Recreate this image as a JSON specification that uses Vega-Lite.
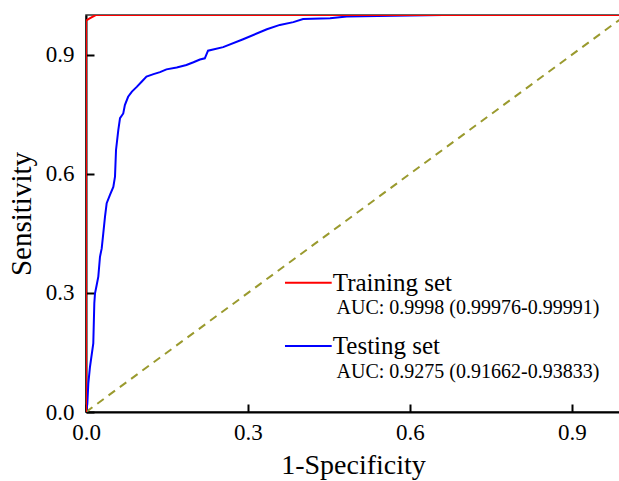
{
  "$schema": "https://vega.github.io/schema/vega-lite/v6.json",
  "autosize": "none",
  "width": 534,
  "height": 397,
  "padding": {"left": 86, "top": 15, "right": 0, "bottom": 69},
  "background": "white",
  "config": {
    "font": "Liberation Serif",
    "view": {"stroke": "#333333", "strokeWidth": 1.5},
    "axis": {
      "grid": false,
      "domainColor": "black",
      "domainWidth": 2,
      "tickColor": "black",
      "tickWidth": 2,
      "tickSize": -8,
      "labelFlush": false,
      "labelFont": "Liberation Serif",
      "labelFontSize": 23,
      "labelColor": "black",
      "titleFont": "Liberation Serif",
      "titleFontSize": 28,
      "titleFontWeight": "normal",
      "titleColor": "black"
    }
  },
  "datasets": {
    "diag": [{"x": 0, "y": 0}, {"x": 1, "y": 1}],
    "training": [
      {"i": 0, "fpr": 0, "tpr": 0},
      {"i": 1, "fpr": 0, "tpr": 0.986},
      {"i": 2, "fpr": 0.006, "tpr": 0.991},
      {"i": 3, "fpr": 0.018, "tpr": 1.0},
      {"i": 4, "fpr": 1.0, "tpr": 1.0}
    ],
    "testing": [
      {"i": 0, "fpr": 0, "tpr": 0},
      {"i": 1, "fpr": 0.0024, "tpr": 0.02},
      {"i": 2, "fpr": 0.0043, "tpr": 0.072},
      {"i": 3, "fpr": 0.0074, "tpr": 0.114},
      {"i": 4, "fpr": 0.0135, "tpr": 0.173},
      {"i": 5, "fpr": 0.0154, "tpr": 0.274},
      {"i": 6, "fpr": 0.0167, "tpr": 0.299},
      {"i": 7, "fpr": 0.0198, "tpr": 0.32},
      {"i": 8, "fpr": 0.0228, "tpr": 0.341},
      {"i": 9, "fpr": 0.0259, "tpr": 0.391},
      {"i": 10, "fpr": 0.0291, "tpr": 0.412},
      {"i": 11, "fpr": 0.032, "tpr": 0.45},
      {"i": 12, "fpr": 0.0352, "tpr": 0.492},
      {"i": 13, "fpr": 0.0383, "tpr": 0.526},
      {"i": 14, "fpr": 0.0444, "tpr": 0.547},
      {"i": 15, "fpr": 0.0506, "tpr": 0.567},
      {"i": 16, "fpr": 0.0537, "tpr": 0.593},
      {"i": 17, "fpr": 0.0556, "tpr": 0.66},
      {"i": 18, "fpr": 0.0598, "tpr": 0.71},
      {"i": 19, "fpr": 0.063, "tpr": 0.74},
      {"i": 20, "fpr": 0.069, "tpr": 0.752},
      {"i": 21, "fpr": 0.072, "tpr": 0.773},
      {"i": 22, "fpr": 0.078, "tpr": 0.794},
      {"i": 23, "fpr": 0.085, "tpr": 0.807},
      {"i": 24, "fpr": 0.094, "tpr": 0.819},
      {"i": 25, "fpr": 0.103, "tpr": 0.832},
      {"i": 26, "fpr": 0.112, "tpr": 0.845},
      {"i": 27, "fpr": 0.125, "tpr": 0.851},
      {"i": 28, "fpr": 0.137, "tpr": 0.856},
      {"i": 29, "fpr": 0.149, "tpr": 0.863},
      {"i": 30, "fpr": 0.168, "tpr": 0.868},
      {"i": 31, "fpr": 0.186, "tpr": 0.874},
      {"i": 32, "fpr": 0.199, "tpr": 0.881},
      {"i": 33, "fpr": 0.211, "tpr": 0.888},
      {"i": 34, "fpr": 0.22, "tpr": 0.891},
      {"i": 35, "fpr": 0.226, "tpr": 0.91},
      {"i": 36, "fpr": 0.254, "tpr": 0.919},
      {"i": 37, "fpr": 0.291, "tpr": 0.939},
      {"i": 38, "fpr": 0.335, "tpr": 0.964},
      {"i": 39, "fpr": 0.359, "tpr": 0.975},
      {"i": 40, "fpr": 0.384, "tpr": 0.982},
      {"i": 41, "fpr": 0.402, "tpr": 0.99},
      {"i": 42, "fpr": 0.452, "tpr": 0.992},
      {"i": 43, "fpr": 0.483, "tpr": 0.996},
      {"i": 44, "fpr": 0.569, "tpr": 0.998},
      {"i": 45, "fpr": 0.661, "tpr": 1.0},
      {"i": 46, "fpr": 1.0, "tpr": 1.0}
    ],
    "legendLines": [
      {"set": "Training set", "x1": 0.3685, "x2": 0.455, "y": 0.3257},
      {"set": "Testing set", "x1": 0.3685, "x2": 0.455, "y": 0.166}
    ],
    "legendTitles": [
      {"label": "Training set", "x": 0.457, "y": 0.3257},
      {"label": "Testing set", "x": 0.457, "y": 0.166}
    ],
    "legendAuc": [
      {"label": "AUC: 0.9998 (0.99976-0.99991)", "x": 0.464, "y": 0.262},
      {"label": "AUC: 0.9275 (0.91662-0.93833)", "x": 0.464, "y": 0.1015}
    ]
  },
  "layer": [
    {
      "data": {"name": "diag"},
      "mark": {"type": "line", "clip": true, "color": "#9a9a2e", "strokeWidth": 2, "strokeDash": [8, 6]},
      "encoding": {
        "x": {
          "field": "x",
          "type": "quantitative",
          "scale": {"domain": [0, 0.9889], "nice": false, "zero": false},
          "axis": {"values": [0, 0.3, 0.6, 0.9], "format": ".1f", "title": "1-Specificity", "labelPadding": 17, "titlePadding": 7}
        },
        "y": {
          "field": "y",
          "type": "quantitative",
          "scale": {"domain": [0, 1], "nice": false},
          "axis": {"values": [0, 0.3, 0.6, 0.9], "format": ".1f", "title": "Sensitivity", "titleFontSize": 29, "labelPadding": 20, "titlePadding": 9}
        }
      }
    },
    {
      "data": {"name": "testing"},
      "mark": {"type": "line", "clip": true, "color": "#0000ff", "strokeWidth": 2},
      "encoding": {
        "x": {"field": "fpr", "type": "quantitative"},
        "y": {"field": "tpr", "type": "quantitative"},
        "order": {"field": "i", "type": "quantitative"}
      }
    },
    {
      "data": {"name": "training"},
      "mark": {"type": "line", "clip": true, "color": "#ff0000", "strokeWidth": 2},
      "encoding": {
        "x": {"field": "fpr", "type": "quantitative"},
        "y": {"field": "tpr", "type": "quantitative"},
        "order": {"field": "i", "type": "quantitative"}
      }
    },
    {
      "data": {"name": "legendLines"},
      "mark": {"type": "rule", "strokeWidth": 2},
      "encoding": {
        "x": {"field": "x1", "type": "quantitative"},
        "x2": {"field": "x2"},
        "y": {"field": "y", "type": "quantitative"},
        "color": {"field": "set", "type": "nominal", "scale": {"domain": ["Training set", "Testing set"], "range": ["#ff0000", "#0000ff"]}, "legend": null}
      }
    },
    {
      "data": {"name": "legendTitles"},
      "mark": {"type": "text", "align": "left", "baseline": "middle", "font": "Liberation Serif", "fontSize": 25, "color": "black"},
      "encoding": {
        "x": {"field": "x", "type": "quantitative"},
        "y": {"field": "y", "type": "quantitative"},
        "text": {"field": "label"}
      }
    },
    {
      "data": {"name": "legendAuc"},
      "mark": {"type": "text", "align": "left", "baseline": "middle", "font": "Liberation Serif", "fontSize": 20, "color": "black"},
      "encoding": {
        "x": {"field": "x", "type": "quantitative"},
        "y": {"field": "y", "type": "quantitative"},
        "text": {"field": "label"}
      }
    }
  ]
}
